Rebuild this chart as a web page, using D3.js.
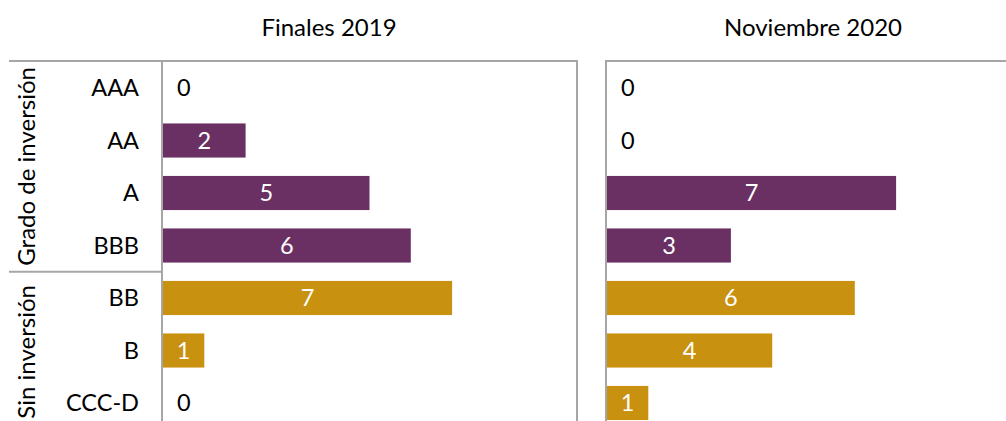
<!DOCTYPE html>
<html><head><meta charset="utf-8">
<script src="https://cdn.jsdelivr.net/npm/d3@7"></script>
<style>body{margin:0;background:#fff}svg{display:block;font-family:Lato,"Noto Sans",sans-serif}</style>
</head><body>
<svg id="c" width="1006" height="421"></svg>
<script>
const categories = ["AAA","AA","A","BBB","BB","B","CCC-D"];
const groups = ["Grado de inversión","Grado de inversión","Grado de inversión","Grado de inversión","Sin inversión","Sin inversión","Sin inversión"];
const groupNames = ["Grado de inversión","Sin inversión"];
const panelTitles = ["Finales 2019","Noviembre 2020"];
const values2019 = [0,2,5,6,7,1,0];
const values2020 = [0,0,7,3,6,4,1];
const xTicks = [0,10];

(function(){
const colors = {"Grado de inversión":"#6a3063","Sin inversión":"#c8910f"};
const svg = d3.select("#c");
const top0 = 61, step = 52.5, fs = 23.5;
const y = d3.scaleBand().domain(categories).range([top0+0.75, top0+0.75+step*7]).paddingInner(0.35).paddingOuter(0.175);

const panels = [
  {title: panelTitles[0], vals: values2019, x0: 162, titleX: 329},
  {title: panelTitles[1], vals: values2020, x0: 606, titleX: 813}
];
const pw = 415;

panels.forEach(p => {
  const x = d3.scaleLinear().domain([xTicks[0], xTicks[1]]).range([p.x0+1, p.x0+1+pw-2]);
  const g = svg.append("g");
  g.append("rect").attr("x", p.x0).attr("y", top0).attr("width", pw).attr("height", 500)
    .attr("fill","none").attr("stroke","#a6a6a6").attr("stroke-width",2);
  g.selectAll("rect.bar").data(p.vals).join("rect").attr("class","bar")
    .attr("x", x(0)).attr("y",(d,i)=>y(categories[i]))
    .attr("width", d=>x(d)-x(0)).attr("height", y.bandwidth())
    .attr("fill",(d,i)=>colors[groups[i]]);
  g.selectAll("text.v").data(p.vals).join("text").attr("class","v")
    .attr("x", d=> d===0 ? x(0)+14 : (x(0)+x(d))/2)
    .attr("y",(d,i)=>y(categories[i])+y.bandwidth()/2)
    .attr("dy","0.36em")
    .attr("text-anchor", d=> d===0 ? "start":"middle")
    .attr("fill", d=> d===0 ? "#000":"#fff")
    .attr("font-size",fs).text(d=>d);
  svg.append("text").attr("x",p.titleX).attr("y",36).attr("text-anchor","middle")
    .attr("font-size",24).attr("fill","#000").text(p.title);
});

svg.selectAll("text.cat").data(categories).join("text").attr("class","cat")
  .attr("x",139).attr("y",d=>y(d)+y.bandwidth()/2).attr("dy","0.36em")
  .attr("text-anchor","end").attr("font-size",fs).attr("fill","#000").text(d=>d);

const sepY = (y("BBB")+y.bandwidth()/2 + y("BB")+y.bandwidth()/2)/2;
[top0, sepY].forEach(yy => svg.append("line").attr("x1",9).attr("x2",162).attr("y1",yy).attr("y2",yy)
  .attr("stroke","#a6a6a6").attr("stroke-width",2));
const gy = [ (top0+sepY)/2, (sepY + 432)/2 ];
groupNames.forEach((n,i)=>{
  svg.append("text").attr("transform",`translate(35,${gy[i]}) rotate(-90)`)
    .attr("text-anchor","middle").attr("font-size",24).attr("fill","#000").text(n);
});
})();
</script>
</body></html>
